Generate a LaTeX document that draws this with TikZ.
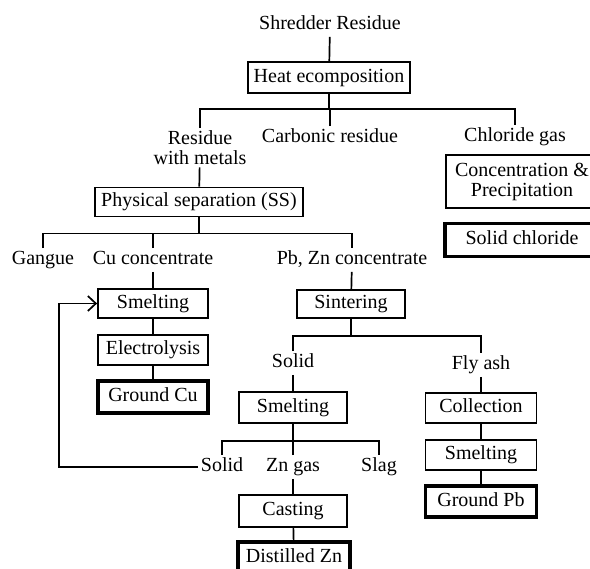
\documentclass[tikz,border=0pt]{standalone}
\usepackage{fontspec}
\setmainfont{Liberation Serif}
\usetikzlibrary{arrows.meta}

\tikzset{
  stage/.style = {draw, line width = 1.8pt, inner sep = 0pt, minimum height = 30pt,
    text height = 14pt, text depth = 4pt},
  product/.style = {stage, line width = 3.6pt},
  stream/.style = {inner sep = 2pt, text height = 14pt, text depth = 4pt}
}

\begin{document}
\begin{tikzpicture}[x = 1pt, y = -1pt, line width = 1.7pt,
  font = \fontsize{20}{20}\selectfont, >={Straight Barb[length=8pt, width=15pt]}]
\useasboundingbox (0, 0) rectangle (590, 569);
\clip (0, 0) rectangle (590, 569);
%\draw[very thin, color = gray, step = 50] (0, 0) grid (590, 569);
\node (src) at (330, 25) [stream] {Shredder Residue};
\node (heat) at (329, 77.5) [stage, line width = 2.2pt, minimum width = 162pt, minimum height = 31pt] {Heat ecomposition};
\node (metals) at (200, 147.5) [inner sep = 2pt, align = center] {Residue\\with metals};
\node (carb) at (330, 138) [stream] {Carbonic residue};
\node (chlgas) at (515, 137) [stream] {Chloride gas};
\node (conc) at (522, 181.5) [draw, line width = 1.8pt, inner sep = 0pt, minimum width = 152pt,
  minimum height = 53pt, align = center] {Concentration \&\\Precipitation};
\node (solidcl) at (522, 240) [product, minimum width = 154pt, minimum height = 33pt] {Solid chloride};
\node (phys) at (199, 202) [stage, minimum width = 208pt, minimum height = 29pt] {Physical separation (SS)};
\node (gangue) at (43, 260) [stream] {Gangue};
\node (cucon) at (153, 260) [stream] {Cu concentrate};
\node (pbzn) at (352, 260) [stream] {Pb, Zn concentrate};
% copper line
\node (smeltcu) at (153, 303.5) [stage, minimum width = 110pt, minimum height = 29pt] {Smelting};
\node (elec) at (153, 350) [stage, minimum width = 110pt] {Electrolysis};
\node (groundcu) at (153, 397) [product, minimum width = 110pt, minimum height = 32pt] {Ground Cu};
% lead and zinc line
\node (sinter) at (351, 304) [stage, minimum width = 108pt, minimum height = 28pt] {Sintering};
\node (solid) at (293, 363) [stream] {Solid};
\node (flyash) at (481, 365) [stream] {Fly ash};
\node (smeltzn) at (293, 407.5) [stage, minimum width = 108pt, minimum height = 31pt] {Smelting};
\node (solidb) at (222, 467) [stream] {Solid};
\node (zngas) at (293, 467) [stream] {Zn gas};
\node (slag) at (379, 467) [stream] {Slag};
\node (cast) at (293, 511) [stage, minimum width = 108pt, minimum height = 32pt] {Casting};
\node (distzn) at (294, 557.5) [product, minimum width = 112pt, minimum height = 31pt] {Distilled Zn};
\node (coll) at (481, 408) [stage, minimum width = 111pt] {Collection};
\node (smeltpb) at (481, 455) [stage, minimum width = 111pt] {Smelting};
\node (groundpb) at (481, 501.5) [product, minimum width = 111pt, minimum height = 31pt] {Ground Pb};

\draw (src) -- (heat);
\draw (heat.south) -- ++(0, 15) coordinate (t1);
\draw (metals.north) |- (t1) -| (chlgas.north);
\draw (carb.north) -- (carb.north |- t1);
\draw (metals) -- (phys);
\draw (phys.south) -- ++(0, 16) coordinate (t2);
\draw (gangue.north) |- (t2) -| (pbzn.north);
\draw (cucon.north) -- (cucon.north |- t2);
\draw (cucon) -- (smeltcu);
\draw (smeltcu) -- (elec);
\draw (elec) -- (groundcu);
\draw (pbzn) -- (sinter);
\draw (sinter.south) -- ++(0, 17) coordinate (t3);
\draw (solid.north) |- (t3) -| (flyash.north);
\draw (solid) -- (smeltzn);
\draw (smeltzn.south) -- ++(0, 17) coordinate (t4);
\draw (solidb.north) |- (t4) -| (slag.north);
\draw (zngas.north) -- (zngas.north |- t4);
\draw (zngas) -- (cast);
\draw (cast) -- (distzn);
\draw (flyash) -- (coll);
\draw (coll) -- (smeltpb);
\draw (smeltpb) -- (groundpb);
% solid goes back to smelting
\coordinate (back) at (59, 467);
\draw [->] (solidb.west) -- (back) |- (smeltcu.west);
\end{tikzpicture}
\end{document}
